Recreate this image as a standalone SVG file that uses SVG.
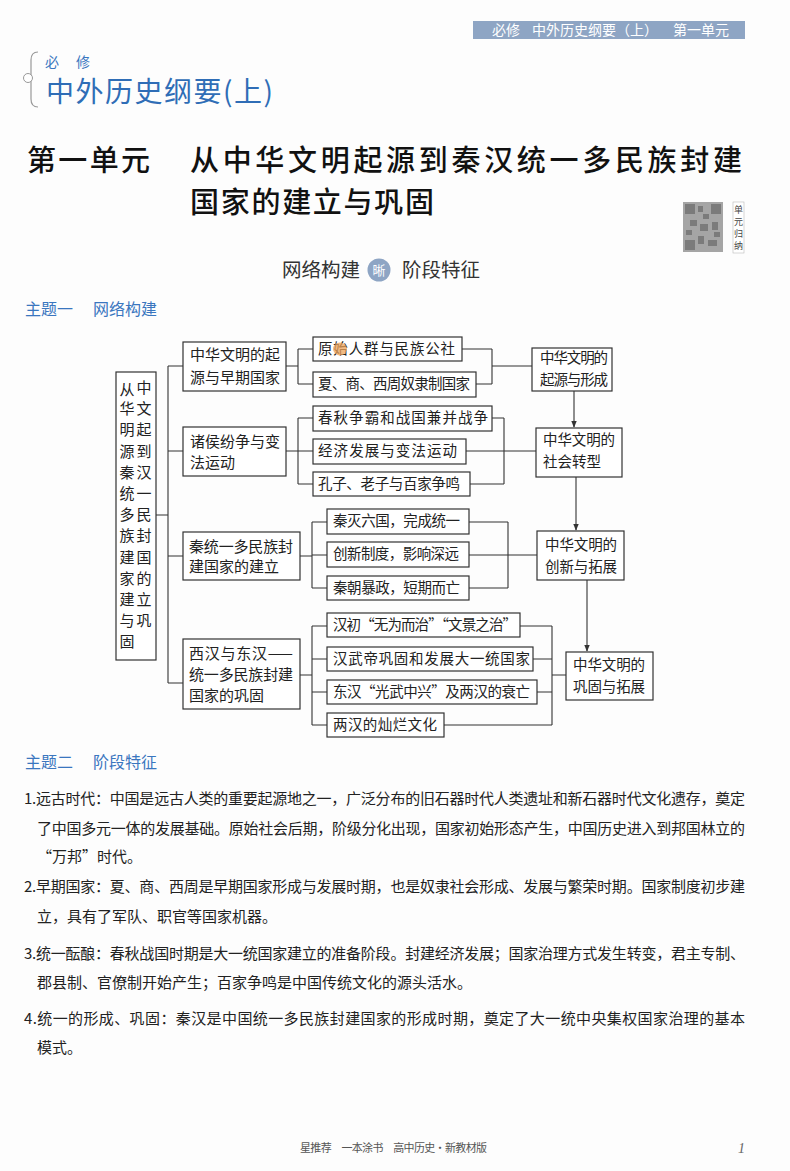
<svg xmlns="http://www.w3.org/2000/svg" width="790" height="1171" viewBox="0 0 790 1171">
<defs>
<style>
.cjk{font-family:"Noto Sans CJK SC","Noto Sans CJK TC",sans-serif}
.box{fill:#fff;stroke:#333;stroke-width:1.2}
.ln{stroke:#333;stroke-width:1.1;fill:none}
.t{font-family:"Noto Sans CJK SC",sans-serif;font-size:14.5px;fill:#222}
.tl{font-family:"Noto Sans CJK SC",sans-serif;font-size:15px;fill:#222}
.body{font-family:"Noto Sans CJK SC",sans-serif;font-size:15px;fill:#222}
.blue{fill:#3a76bf}
</style>
<marker id="arr" viewBox="0 0 10 10" refX="9" refY="5" markerWidth="7" markerHeight="7" orient="auto" markerUnits="userSpaceOnUse">
<path d="M0,1 L10,5 L0,9 z" fill="#333"/>
</marker>
</defs>
<rect x="0" y="0" width="790" height="1171" fill="#fdfdfd"/>

<!-- header bar -->
<g id="header">
<rect x="473" y="21" width="272" height="18" fill="#8ea5c4"/>
<text class="cjk" x="492" y="35" font-size="14" fill="#fff">必修</text>
<text class="cjk" x="532" y="35" font-size="14" fill="#fff">中外历史纲要（上）</text>
<text class="cjk" x="673" y="35" font-size="14" fill="#fff">第一单元</text>
</g>

<!-- top-left book label -->
<g id="booklabel">
<path d="M38,52 Q31,52 31,60 L31,99 Q31,107 38,107" fill="none" stroke="#999" stroke-width="1.2"/>
<circle cx="28" cy="78" r="4.5" fill="#fff" stroke="#999" stroke-width="1"/>
<text class="cjk" x="45" y="67" font-size="14" fill="#3a76bf">必</text>
<text class="cjk" x="76" y="67" font-size="14" fill="#3a76bf">修</text>
<text class="cjk" x="46" y="102" font-size="28" fill="#2f6db6" textLength="227" lengthAdjust="spacing">中外历史纲要(上)</text>
</g>

<!-- title -->
<g id="title">
<text class="cjk" x="27" y="171" font-size="29" font-weight="500" fill="#111" textLength="123" lengthAdjust="spacing">第一单元</text>
<text class="cjk" x="190" y="171" font-size="29" font-weight="500" fill="#111" textLength="552" lengthAdjust="spacing">从中华文明起源到秦汉统一多民族封建</text>
<text class="cjk" x="190" y="213" font-size="29" font-weight="500" fill="#111" textLength="244" lengthAdjust="spacing">国家的建立与巩固</text>
</g>

<!-- QR code -->
<g id="qrcode">
<rect x="683" y="202" width="40" height="50" fill="#9a9a9a"/>
<g fill="#5a5a5a">
<rect x="685" y="204" width="10" height="10"/><rect x="711" y="204" width="10" height="10"/><rect x="685" y="240" width="10" height="10"/>
<rect x="698" y="206" width="5" height="6"/><rect x="703" y="214" width="6" height="5"/><rect x="690" y="220" width="7" height="6"/>
<rect x="700" y="224" width="8" height="7"/><rect x="712" y="222" width="6" height="8"/><rect x="686" y="230" width="6" height="5"/>
<rect x="698" y="236" width="6" height="8"/><rect x="708" y="240" width="9" height="6"/><rect x="714" y="232" width="6" height="5"/>
</g>
<rect x="683" y="202" width="40" height="50" fill="#bbb" opacity="0.35"/>
<rect x="733" y="202" width="11" height="51" fill="#fff" stroke="#bbb" stroke-width="0.6"/>
<text class="cjk" x="738.5" y="213" font-size="9" fill="#444" text-anchor="middle">单</text>
<text class="cjk" x="738.5" y="225" font-size="9" fill="#444" text-anchor="middle">元</text>
<text class="cjk" x="738.5" y="237" font-size="9" fill="#444" text-anchor="middle">归</text>
<text class="cjk" x="738.5" y="249" font-size="9" fill="#444" text-anchor="middle">纳</text>
</g>

<!-- banner -->
<g id="banner">
<text class="cjk" x="282" y="277" font-size="19.5" fill="#333">网络构建</text>
<circle cx="379" cy="270" r="11.5" fill="#8ea5c4"/>
<text class="cjk" x="379" y="275" font-size="13" fill="#fff" text-anchor="middle">晰</text>
<text class="cjk" x="402" y="277" font-size="19.5" fill="#333">阶段特征</text>
</g>

<text class="cjk blue" x="25" y="315" font-size="16">主题一</text>
<text class="cjk blue" x="93" y="315" font-size="16">网络构建</text>

<!-- connectors -->
<g id="connectors">
<path class="ln" d="M156,515 H168 M168,366 V683 M168,366 H183 M168,451 H183 M168,556 H183 M168,683 H183"/>
<!-- group 1 -->
<path class="ln" d="M286,366 H298 M298,349 V384 M298,349 H313 M298,384 H313"/>
<path class="ln" d="M462,349 H492 M476,384 H492 M492,349 V384 M492,366 H532"/>
<!-- group 2 -->
<path class="ln" d="M286,451 H298 M298,418 V484 M298,418 H313 M298,451 H313 M298,484 H313"/>
<path class="ln" d="M492,418 H504 M470,484 H504 M504,418 V484 M466,451 H536"/>
<!-- group 3 -->
<path class="ln" d="M300,556 H312 M312,522 V588 M312,522 H327 M312,555 H327 M312,588 H327"/>
<path class="ln" d="M469,522 H508 M469,588 H508 M508,522 V588 M469,555 H537"/>
<!-- group 4 -->
<path class="ln" d="M300,675 H312 M312,626 V725 M312,626 H327 M312,659 H327 M312,692 H327 M312,725 H327"/>
<path class="ln" d="M520,626 H552 M533,659 H552 M537,692 H552 M444,725 H552 M552,626 V725 M552,675 H566"/>
<!-- arrows -->
<path class="ln" d="M574,391 V427" marker-end="url(#arr)"/>
<path class="ln" d="M576,477 V530" marker-end="url(#arr)"/>
<path class="ln" d="M587,580 V651" marker-end="url(#arr)"/>
</g>

<!-- main root node -->
<g id="root">
<rect class="box" x="116" y="372" width="40" height="288"/>
<g class="tl" font-size="14.5" text-anchor="middle">
<text x="127" y="395">从</text><text x="144" y="393">中</text>
<text x="127" y="414">华</text><text x="144" y="414">文</text>
<text x="127" y="435">明</text><text x="144" y="435">起</text>
<text x="127" y="457">源</text><text x="144" y="457">到</text>
<text x="127" y="478">秦</text><text x="144" y="478">汉</text>
<text x="127" y="499">统</text><text x="144" y="499">一</text>
<text x="127" y="520">多</text><text x="144" y="520">民</text>
<text x="127" y="541">族</text><text x="144" y="541">封</text>
<text x="127" y="563">建</text><text x="144" y="563">国</text>
<text x="127" y="584">家</text><text x="144" y="584">的</text>
<text x="127" y="605">建</text><text x="144" y="605">立</text>
<text x="127" y="626">与</text><text x="144" y="626">巩</text>
<text x="127" y="647">固</text>
</g>
</g>

<!-- level-1 nodes -->
<g id="nodeA">
<rect class="box" x="183" y="342" width="103" height="49"/>
<text class="tl" x="190" y="360">中华文明的起</text>
<text class="tl" x="190" y="383">源与早期国家</text>
</g>
<g id="nodeB">
<rect class="box" x="183" y="427" width="103" height="49"/>
<text class="tl" x="190" y="447">诸侯纷争与变</text>
<text class="tl" x="190" y="468">法运动</text>
</g>
<g id="nodeC">
<rect class="box" x="183" y="532" width="117" height="48"/>
<text class="tl" x="189" y="552" textLength="104" lengthAdjust="spacing">秦统一多民族封</text>
<text class="tl" x="189" y="572">建国家的建立</text>
</g>
<g id="nodeD">
<rect class="box" x="183" y="639" width="117" height="70"/>
<text class="tl" x="189" y="659" textLength="104" lengthAdjust="spacing">西汉与东汉——</text>
<text class="tl" x="189" y="680" textLength="104" lengthAdjust="spacing">统一多民族封建</text>
<text class="tl" x="189" y="701">国家的巩固</text>
</g>

<!-- group 1 leaves -->
<g id="a1">
<rect class="box" x="313" y="337" width="149" height="24"/>
<text class="t" x="318" y="354" textLength="137" lengthAdjust="spacing">原始人群与民族公社</text>
<ellipse cx="340" cy="349" rx="7" ry="6.5" fill="#eea35a" opacity="0.75"/>
</g>
<g id="a2">
<rect class="box" x="313" y="372" width="163" height="25"/>
<text class="t" x="318" y="389" textLength="152" lengthAdjust="spacing">夏、商、西周奴隶制国家</text>
</g>
<!-- group 2 leaves -->
<g id="b1">
<rect class="box" x="313" y="406" width="179" height="25"/>
<text class="t" x="318" y="423" textLength="170" lengthAdjust="spacing">春秋争霸和战国兼并战争</text>
</g>
<g id="b2">
<rect class="box" x="313" y="439" width="153" height="25"/>
<text class="t" x="318" y="456" textLength="139" lengthAdjust="spacing">经济发展与变法运动</text>
</g>
<g id="b3">
<rect class="box" x="313" y="472" width="157" height="24"/>
<text class="t" x="318" y="489" textLength="142" lengthAdjust="spacing">孔子、老子与百家争鸣</text>
</g>
<!-- group 3 leaves -->
<g id="c1">
<rect class="box" x="327" y="509" width="142" height="25"/>
<text class="t" x="333" y="526" textLength="127" lengthAdjust="spacing">秦灭六国，完成统一</text>
</g>
<g id="c2">
<rect class="box" x="327" y="542" width="142" height="25"/>
<text class="t" x="333" y="559" textLength="126" lengthAdjust="spacing">创新制度，影响深远</text>
</g>
<g id="c3">
<rect class="box" x="327" y="576" width="142" height="24"/>
<text class="t" x="333" y="593" textLength="127" lengthAdjust="spacing">秦朝暴政，短期而亡</text>
</g>
<!-- group 4 leaves -->
<g id="d1">
<rect class="box" x="327" y="613" width="193" height="24"/>
<text class="t" x="333" y="630" textLength="184" lengthAdjust="spacing">汉初“无为而治”“文景之治”</text>
</g>
<g id="d2">
<rect class="box" x="327" y="647" width="206" height="24"/>
<text class="t" x="333" y="664" textLength="197" lengthAdjust="spacing">汉武帝巩固和发展大一统国家</text>
</g>
<g id="d3">
<rect class="box" x="327" y="680" width="210" height="24"/>
<text class="t" x="333" y="697" textLength="197" lengthAdjust="spacing">东汉“光武中兴”及两汉的衰亡</text>
</g>
<g id="d4">
<rect class="box" x="327" y="713" width="117" height="24"/>
<text class="t" x="333" y="730" textLength="104" lengthAdjust="spacing">两汉的灿烂文化</text>
</g>

<!-- right summary nodes -->
<g id="s1">
<rect class="box" x="532" y="348" width="80" height="43"/>
<text class="t" x="540" y="363" textLength="68" lengthAdjust="spacing">中华文明的</text>
<text class="t" x="540" y="385" textLength="68" lengthAdjust="spacing">起源与形成</text>
</g>
<g id="s2">
<rect class="box" x="536" y="428" width="86" height="49"/>
<text class="t" x="543" y="445" textLength="72" lengthAdjust="spacing">中华文明的</text>
<text class="t" x="543" y="467" textLength="58" lengthAdjust="spacing">社会转型</text>
</g>
<g id="s3">
<rect class="box" x="537" y="531" width="87" height="49"/>
<text class="t" x="545" y="550" textLength="72" lengthAdjust="spacing">中华文明的</text>
<text class="t" x="545" y="572" textLength="72" lengthAdjust="spacing">创新与拓展</text>
</g>
<g id="s4">
<rect class="box" x="566" y="652" width="87" height="48"/>
<text class="t" x="573" y="670" textLength="72" lengthAdjust="spacing">中华文明的</text>
<text class="t" x="573" y="692" textLength="72" lengthAdjust="spacing">巩固与拓展</text>
</g>

<!-- section 2 -->
<text class="cjk blue" x="25" y="768" font-size="16">主题二</text>
<text class="cjk blue" x="93" y="768" font-size="16">阶段特征</text>

<g id="paragraphs">
<text class="body" x="24" y="804" textLength="721" lengthAdjust="spacing">1.远古时代：中国是远古人类的重要起源地之一，广泛分布的旧石器时代人类遗址和新石器时代文化遗存，奠定</text>
<text class="body" x="37" y="834" textLength="708" lengthAdjust="spacing">了中国多元一体的发展基础。原始社会后期，阶级分化出现，国家初始形态产生，中国历史进入到邦国林立的</text>
<text class="body" x="37" y="862">“万邦”时代。</text>
<text class="body" x="24" y="892" textLength="721" lengthAdjust="spacing">2.早期国家：夏、商、西周是早期国家形成与发展时期，也是奴隶社会形成、发展与繁荣时期。国家制度初步建</text>
<text class="body" x="37" y="922">立，具有了军队、职官等国家机器。</text>
<text class="body" x="24" y="959" textLength="721" lengthAdjust="spacing">3.统一酝酿：春秋战国时期是大一统国家建立的准备阶段。封建经济发展；国家治理方式发生转变，君主专制、</text>
<text class="body" x="37" y="988">郡县制、官僚制开始产生；百家争鸣是中国传统文化的源头活水。</text>
<text class="body" x="24" y="1024" textLength="721" lengthAdjust="spacing">4.统一的形成、巩固：秦汉是中国统一多民族封建国家的形成时期，奠定了大一统中央集权国家治理的基本</text>
<text class="body" x="37" y="1053">模式。</text>
</g>

<!-- footer -->
<g id="footer">
<text class="cjk" x="300" y="1152" font-size="11" fill="#555" textLength="187" lengthAdjust="spacing">星推荐　一本涂书　高中历史·新教材版</text>
<text x="738" y="1153" font-family="Liberation Serif, serif" font-style="italic" font-size="14" fill="#666">1</text>
</g>
</svg>
